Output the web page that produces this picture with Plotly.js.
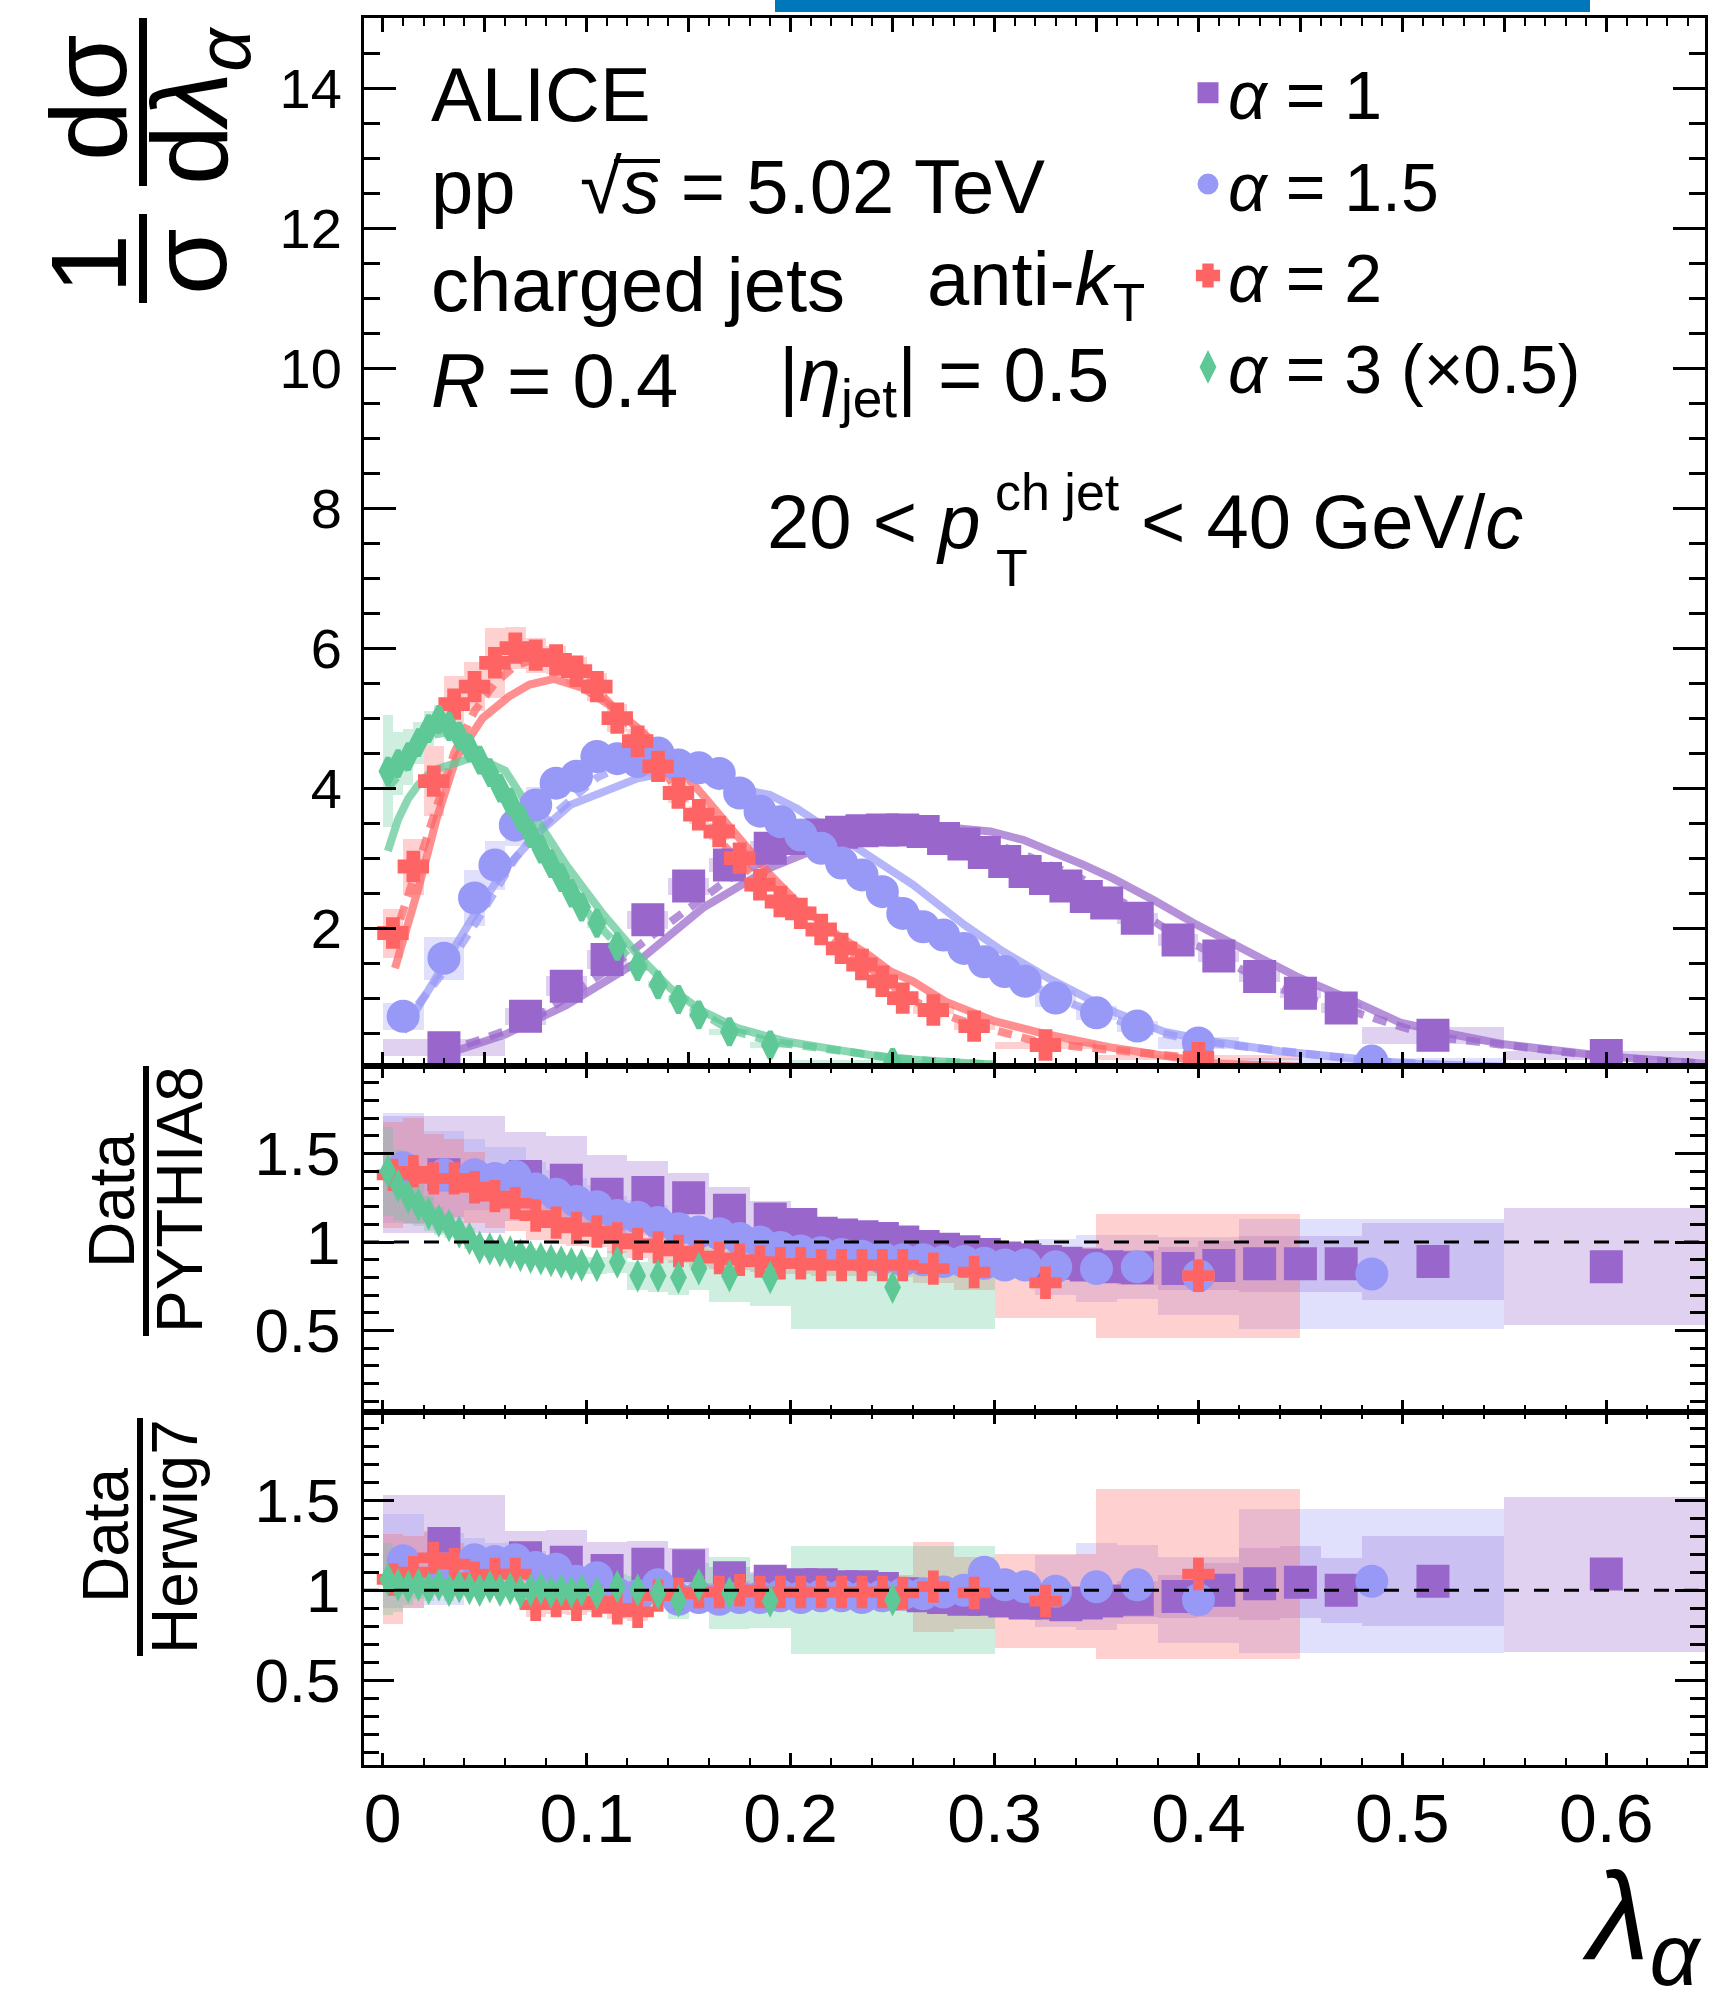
<!DOCTYPE html>
<html><head><meta charset="utf-8">
<script src="https://cdn.plot.ly/plotly-3.0.1.min.js"></script>
<style>html,body{margin:0;padding:0;background:#fff}#chart{width:1727px;height:1991px}</style>
</head><body><div id="chart"></div>
<script>
// ---------------- DATA ----------------
// alpha = 1
const lam_a1 = [0.03,0.07,0.09,0.11,0.13,0.15,0.17,0.19,0.205,0.215,0.225,0.235,0.245,0.255,0.265,0.275,0.285,0.295,0.305,0.315,0.325,0.335,0.345,0.355,0.37,0.39,0.41,0.43,0.45,0.47,0.515,0.60];
const edges_a1 = [0,0.06,0.08,0.10,0.12,0.14,0.16,0.18,0.20,0.21,0.22,0.23,0.24,0.25,0.26,0.27,0.28,0.29,0.30,0.31,0.32,0.33,0.34,0.35,0.36,0.38,0.40,0.42,0.44,0.46,0.48,0.55,0.65];
const val_a1 = [0.29,0.74,1.17,1.55,2.12,2.6,2.9,3.14,3.28,3.33,3.37,3.39,3.4,3.4,3.38,3.28,3.2,3.08,2.95,2.81,2.71,2.6,2.45,2.36,2.14,1.83,1.6,1.31,1.07,0.86,0.47,0.18];
const sys_a1 = [0.12,0.12,0.14,0.14,0.13,0.12,0.1,0.1,0.08,0.08,0.08,0.08,0.08,0.08,0.08,0.08,0.08,0.08,0.08,0.08,0.08,0.08,0.08,0.08,0.08,0.08,0.08,0.08,0.07,0.07,0.12,0.06];
const ratioPythia_a1 = [1.38,1.37,1.35,1.27,1.28,1.25,1.18,1.13,1.10,1.05,1.04,1.03,1.02,1.0,0.975,0.96,0.945,0.93,0.91,0.9,0.89,0.88,0.87,0.86,0.855,0.85,0.868,0.877,0.877,0.877,0.89,0.86];
const sysPythia_a1 = [0.33,0.25,0.25,0.22,0.18,0.14,0.13,0.10,0.06,0.06,0.06,0.06,0.06,0.06,0.06,0.06,0.06,0.06,0.06,0.06,0.06,0.06,0.07,0.07,0.1,0.12,0.14,0.16,0.16,0.16,0.22,0.33];
const ratioHerwig_a1 = [1.26,1.18,1.155,1.11,1.145,1.136,1.07,1.05,1.03,1.03,1.02,1.02,1.01,0.98,0.97,0.96,0.95,0.95,0.94,0.93,0.93,0.92,0.93,0.94,0.95,0.966,1.0,1.036,1.045,1.0,1.05,1.09];
const sysHerwig_a1 = [0.27,0.15,0.18,0.16,0.13,0.1,0.06,0.05,0.05,0.05,0.05,0.05,0.05,0.05,0.05,0.05,0.05,0.05,0.05,0.05,0.05,0.05,0.05,0.05,0.1,0.12,0.15,0.2,0.2,0.18,0.25,0.43];
const pythiaLam_a1 = [0.03,0.06,0.09,0.125,0.157,0.19,0.206,0.23,0.26,0.28,0.298,0.314,0.344,0.358,0.378,0.399,0.424,0.448,0.473,0.499,0.525,0.55,0.6,0.65];
const pythiaVal_a1 = [0.19,0.48,0.9,1.52,2.29,2.86,3.05,3.3,3.45,3.43,3.38,3.26,2.9,2.71,2.4,2.05,1.67,1.31,1.0,0.65,0.48,0.34,0.17,0.06];
const herwigLam_a1 = [0.03,0.07,0.09,0.11,0.13,0.15,0.17,0.19,0.22,0.25,0.28,0.31,0.34,0.37,0.39,0.41,0.43,0.45,0.47,0.515,0.6,0.65];
const herwigVal_a1 = [0.23,0.63,1.01,1.4,1.85,2.29,2.71,3.0,3.3,3.42,3.4,3.1,2.75,2.25,1.88,1.6,1.26,1.02,0.86,0.45,0.16,0.06];

// alpha = 1.5
const lam_a15 = [0.01,0.03,0.045,0.055,0.065,0.075,0.085,0.095,0.105,0.115,0.125,0.135,0.145,0.155,0.165,0.175,0.185,0.195,0.205,0.215,0.225,0.235,0.245,0.255,0.265,0.275,0.285,0.295,0.305,0.315,0.33,0.35,0.37,0.40,0.485];
const edges_a15 = [0,0.02,0.04,0.05,0.06,0.07,0.08,0.09,0.10,0.11,0.12,0.13,0.14,0.15,0.16,0.17,0.18,0.19,0.20,0.21,0.22,0.23,0.24,0.25,0.26,0.27,0.28,0.29,0.30,0.31,0.32,0.34,0.36,0.38,0.42,0.55];
const val_a15 = [0.74,1.57,2.43,2.9,3.47,3.76,4.07,4.17,4.45,4.42,4.38,4.5,4.33,4.29,4.21,3.93,3.67,3.52,3.33,3.14,2.93,2.76,2.52,2.21,2.02,1.9,1.71,1.52,1.38,1.24,1.0,0.79,0.6,0.36,0.1];
const sys_a15 = [0.19,0.31,0.4,0.35,0.3,0.25,0.2,0.18,0.18,0.16,0.15,0.15,0.14,0.13,0.13,0.12,0.12,0.11,0.11,0.1,0.1,0.1,0.09,0.09,0.09,0.08,0.08,0.08,0.08,0.08,0.12,0.1,0.08,0.08,0.05];
const ratioPythia_a15 = [1.42,1.38,1.38,1.36,1.37,1.30,1.27,1.23,1.2,1.15,1.14,1.11,1.075,1.057,1.047,1.02,1.0,0.97,0.95,0.94,0.93,0.92,0.91,0.9,0.9,0.89,0.89,0.88,0.87,0.87,0.86,0.85,0.86,0.81,0.82];
const sysPythia_a15 = [0.31,0.25,0.2,0.18,0.17,0.15,0.14,0.13,0.12,0.11,0.1,0.1,0.09,0.08,0.08,0.07,0.07,0.07,0.06,0.06,0.06,0.06,0.06,0.06,0.06,0.06,0.06,0.06,0.06,0.06,0.16,0.19,0.18,0.22,0.31];
const ratioHerwig_a15 = [1.164,1.12,1.17,1.16,1.17,1.126,1.117,1.05,1.07,0.98,0.97,1.03,0.95,0.96,0.95,0.96,0.96,0.97,0.96,0.97,0.97,0.96,0.97,0.98,0.98,0.99,1.0,1.1,1.03,1.02,0.994,1.02,1.03,0.947,1.05];
const sysHerwig_a15 = [0.26,0.2,0.12,0.1,0.1,0.09,0.08,0.08,0.07,0.07,0.06,0.06,0.06,0.06,0.05,0.05,0.05,0.05,0.05,0.05,0.05,0.05,0.05,0.05,0.05,0.05,0.05,0.06,0.06,0.06,0.2,0.24,0.22,0.24,0.4];
const pythiaLam_a15 = [0.01,0.026,0.043,0.059,0.075,0.092,0.108,0.125,0.14,0.16,0.174,0.19,0.203,0.223,0.239,0.26,0.285,0.304,0.326,0.358,0.383,0.407,0.44,0.472,0.5,0.55];
const pythiaVal_a15 = [0.52,1.29,2.1,2.81,3.33,3.76,3.95,4.14,4.22,4.12,4.0,3.9,3.71,3.33,3.0,2.62,2.05,1.67,1.29,0.81,0.52,0.38,0.24,0.14,0.07,0.02];
const herwigLam_a15 = [0.01,0.03,0.045,0.055,0.065,0.075,0.085,0.095,0.105,0.12,0.14,0.16,0.18,0.2,0.22,0.24,0.26,0.28,0.3,0.33,0.35,0.37,0.4,0.45,0.485,0.52];
const herwigVal_a15 = [0.64,1.38,2.05,2.5,3.0,3.35,3.65,3.9,4.15,4.35,4.4,4.25,3.85,3.45,3.05,2.65,2.25,1.9,1.5,1.0,0.78,0.58,0.38,0.2,0.1,0.05];

// alpha = 2
const lam_a2 = [0.005,0.015,0.025,0.035,0.045,0.055,0.065,0.075,0.085,0.095,0.105,0.115,0.125,0.135,0.145,0.155,0.165,0.175,0.185,0.195,0.205,0.215,0.225,0.235,0.245,0.255,0.27,0.29,0.325,0.40];
const edges_a2 = [0,0.01,0.02,0.03,0.04,0.05,0.06,0.07,0.08,0.09,0.10,0.11,0.12,0.13,0.14,0.15,0.16,0.17,0.18,0.19,0.20,0.21,0.22,0.23,0.24,0.25,0.26,0.28,0.30,0.35,0.45];
const val_a2 = [1.93,2.88,4.1,5.2,5.45,5.79,6.0,5.9,5.83,5.67,5.45,5.0,4.67,4.31,3.93,3.62,3.38,3.0,2.62,2.38,2.21,1.98,1.71,1.48,1.24,1.0,0.83,0.6,0.33,0.15];
const sys_a2 = [0.35,0.4,0.5,0.4,0.35,0.5,0.3,0.25,0.2,0.2,0.2,0.2,0.18,0.15,0.15,0.13,0.12,0.12,0.1,0.1,0.1,0.09,0.08,0.08,0.07,0.06,0.06,0.06,0.05,0.04];
const ratioPythia_a2 = [1.38,1.40,1.36,1.36,1.31,1.26,1.22,1.15,1.11,1.08,1.06,1.02,0.99,0.97,0.95,0.92,0.91,0.9,0.89,0.88,0.88,0.87,0.87,0.87,0.87,0.87,0.85,0.83,0.77,0.81];
const sysPythia_a2 = [0.3,0.3,0.25,0.22,0.2,0.18,0.16,0.14,0.12,0.1,0.09,0.08,0.08,0.07,0.07,0.06,0.06,0.06,0.06,0.06,0.06,0.06,0.06,0.06,0.06,0.07,0.08,0.1,0.2,0.35];
const ratioHerwig_a2 = [1.06,1.1,1.18,1.145,1.07,1.09,1.09,0.92,0.94,0.92,0.94,0.9,0.88,0.97,0.98,0.99,0.99,1.0,0.99,0.99,0.99,0.99,0.99,0.99,0.99,0.985,1.02,0.985,0.94,1.09];
const sysHerwig_a2 = [0.25,0.2,0.15,0.12,0.1,0.09,0.08,0.07,0.07,0.06,0.06,0.06,0.05,0.05,0.05,0.05,0.05,0.05,0.05,0.05,0.05,0.06,0.06,0.07,0.08,0.1,0.25,0.2,0.26,0.47];
const pythiaLam_a2 = [0.006,0.018,0.0265,0.036,0.049,0.062,0.072,0.084,0.098,0.111,0.125,0.141,0.157,0.174,0.19,0.206,0.223,0.239,0.249,0.26,0.276,0.3,0.326,0.358,0.39,0.407,0.45];
const pythiaVal_a2 = [1.43,2.62,3.57,4.43,5.0,5.31,5.48,5.56,5.43,5.19,4.86,4.43,3.9,3.33,2.76,2.29,1.9,1.6,1.38,1.24,0.95,0.67,0.48,0.29,0.14,0.07,0.02];
const herwigLam_a2 = [0.005,0.015,0.025,0.035,0.045,0.055,0.065,0.075,0.085,0.095,0.105,0.115,0.125,0.135,0.145,0.155,0.165,0.175,0.185,0.195,0.205,0.215,0.225,0.235,0.245,0.255,0.27,0.29,0.325,0.40];
const herwigVal_a2 = [1.8,2.7,3.6,4.5,5.1,5.5,5.75,5.85,5.8,5.65,5.4,5.1,4.75,4.35,3.95,3.6,3.25,2.95,2.65,2.4,2.15,1.95,1.72,1.5,1.3,1.05,0.82,0.62,0.35,0.14];

// alpha = 3 (x0.5)
const lam_a3 = [0.0025,0.0075,0.0125,0.0175,0.0225,0.0275,0.0325,0.0375,0.0425,0.0475,0.0525,0.0575,0.0625,0.0675,0.0725,0.0775,0.0825,0.0875,0.0925,0.0975,0.105,0.115,0.125,0.135,0.145,0.155,0.17,0.19,0.25];
const edges_a3 = [0,0.005,0.01,0.015,0.02,0.025,0.03,0.035,0.04,0.045,0.05,0.055,0.06,0.065,0.07,0.075,0.08,0.085,0.09,0.095,0.10,0.11,0.12,0.13,0.14,0.15,0.16,0.18,0.20,0.30];
const val_a3 = [4.24,4.35,4.45,4.65,4.85,4.98,4.88,4.74,4.57,4.4,4.22,4.0,3.8,3.58,3.35,3.13,2.92,2.72,2.5,2.3,2.07,1.74,1.45,1.19,0.98,0.76,0.52,0.33,0.08];
const sys_a3 = [0.8,0.45,0.4,0.3,0.25,0.2,0.18,0.16,0.15,0.14,0.13,0.12,0.11,0.1,0.1,0.09,0.08,0.08,0.07,0.07,0.07,0.06,0.06,0.05,0.05,0.05,0.04,0.04,0.03];
const ratioPythia_a3 = [1.40,1.32,1.255,1.21,1.16,1.12,1.094,1.057,1.02,0.97,0.962,0.953,0.943,0.925,0.915,0.906,0.896,0.887,0.877,0.87,0.868,0.887,0.81,0.81,0.8,0.85,0.81,0.8,0.745];
const sysPythia_a3 = [0.25,0.2,0.15,0.12,0.1,0.08,0.07,0.06,0.06,0.05,0.05,0.05,0.05,0.05,0.05,0.05,0.05,0.05,0.05,0.05,0.05,0.06,0.08,0.09,0.1,0.12,0.15,0.16,0.235];
const ratioHerwig_a3 = [1.06,1.03,1.02,1.03,1.01,1.03,1.0,1.02,1.01,1.0,1.02,1.0,1.01,0.99,1.0,1.01,0.99,1.0,0.99,1.0,0.985,1.02,1.0,0.985,0.94,1.03,0.985,0.94,0.947];
const sysHerwig_a3 = [0.2,0.15,0.1,0.08,0.07,0.06,0.06,0.05,0.05,0.05,0.05,0.05,0.05,0.05,0.05,0.05,0.05,0.05,0.05,0.05,0.06,0.07,0.08,0.09,0.1,0.12,0.2,0.15,0.3];
const pythiaLam_a3 = [0.0025,0.0075,0.0125,0.0175,0.0225,0.0275,0.035,0.045,0.06,0.075,0.09,0.108,0.125,0.141,0.157,0.174,0.198,0.223,0.249,0.3];
const pythiaVal_a3 = [3.1,3.55,3.85,4.05,4.2,4.28,4.35,4.45,4.25,3.6,2.9,2.2,1.62,1.14,0.81,0.57,0.38,0.26,0.14,0.05];
const herwigLam_a3 = [0.0025,0.0125,0.0225,0.0325,0.0425,0.0525,0.0625,0.0725,0.0825,0.0925,0.105,0.125,0.145,0.17,0.19,0.21,0.23,0.25,0.27,0.3];
const herwigVal_a3 = [4.0,4.35,4.75,4.8,4.5,4.2,3.8,3.35,2.95,2.5,2.07,1.45,0.98,0.55,0.38,0.3,0.22,0.15,0.1,0.05];

const legendNames = ['<i>α</i> = 1','<i>α</i> = 1.5','<i>α</i> = 2','<i>α</i> = 3 (×0.5)'];
const xTickLabels = ['0','0.1','0.2','0.3','0.4','0.5','0.6'];
const xTickVals = [0,0.1,0.2,0.3,0.4,0.5,0.6];

// ---------------- STYLE / LAYOUT ----------------
const W=1727,H=1991,ML=364,MR=22,MT=18,MB=226;
const PW=W-ML-MR, PH=H-MT-MB;
const px = x => (x-ML)/PW;
const py = y => (H-MB-y)/PH;
const FONT = 'Liberation Sans, Arial, Helvetica, sans-serif';
function rgba(hex,a){const n=parseInt(hex.slice(1),16);return `rgba(${(n>>16)&255},${(n>>8)&255},${n&255},${a})`;}

const series = [
 {col:'#9966cc', sym:'square', size:33, lam:lam_a1, edges:edges_a1, val:val_a1, sys:sys_a1, rP:ratioPythia_a1, sP:sysPythia_a1, rH:ratioHerwig_a1, sH:sysHerwig_a1, pl:pythiaLam_a1, pv:pythiaVal_a1, hl:herwigLam_a1, hv:herwigVal_a1},
 {col:'#9898f7', sym:'circle', size:33, lam:lam_a15, edges:edges_a15, val:val_a15, sys:sys_a15, rP:ratioPythia_a15, sP:sysPythia_a15, rH:ratioHerwig_a15, sH:sysHerwig_a15, pl:pythiaLam_a15, pv:pythiaVal_a15, hl:herwigLam_a15, hv:herwigVal_a15},
 {col:'#ff6464', sym:'cross', size:27, lam:lam_a2, edges:edges_a2, val:val_a2, sys:sys_a2, rP:ratioPythia_a2, sP:sysPythia_a2, rH:ratioHerwig_a2, sH:sysHerwig_a2, pl:pythiaLam_a2, pv:pythiaVal_a2, hl:herwigLam_a2, hv:herwigVal_a2},
 {col:'#5ec896', sym:'diamond-tall', size:24, lam:lam_a3, edges:edges_a3, val:val_a3, sys:sys_a3, rP:ratioPythia_a3, sP:sysPythia_a3, rH:ratioHerwig_a3, sH:sysHerwig_a3, pl:pythiaLam_a3, pv:pythiaVal_a3, hl:herwigLam_a3, hv:herwigVal_a3}
];

function boxTrace(s, vals, sys, xa, ya, op){
  const c=[],w=[],base=[],h=[];
  for(let i=0;i<vals.length;i++){const lo=s.edges[i],hi=s.edges[i+1];c.push((lo+hi)/2);w.push(hi-lo);base.push(vals[i]-sys[i]);h.push(2*sys[i]);}
  return {type:'bar',x:c,y:h,base:base,width:w,xaxis:xa,yaxis:ya,marker:{color:rgba(s.col,op),line:{width:0}},showlegend:false,hoverinfo:'skip'};
}
function lineTrace(s,lx,ly,dash){
  return {type:'scatter',mode:'lines',x:lx,y:ly,xaxis:'x',yaxis:'y',line:{color:rgba(s.col,0.72),width:8,dash:dash},showlegend:false,hoverinfo:'skip'};
}
function markTrace(s,vals,xa,ya,name,leg){
  // legend-bearing traces use an outline of the same colour so the legend swatch is larger
  const lw = leg ? 5 : 0;
  return {type:'scatter',mode:'markers',x:s.lam,y:vals,xaxis:xa,yaxis:ya,name:name,showlegend:leg,
    marker:{symbol:s.sym,size:s.size-lw,color:s.col,line:{width:lw,color:s.col}},hoverinfo:'skip'};
}

const traces=[];
series.forEach(s=>traces.push(boxTrace(s,s.val,s.sys,'x','y',0.3)));
series.forEach(s=>traces.push(boxTrace(s,s.rP,s.sP,'x2','y2',0.3)));
series.forEach(s=>traces.push(boxTrace(s,s.rH,s.sH,'x3','y3',0.3)));
series.forEach(s=>{traces.push(lineTrace(s,s.pl,s.pv,'solid'));traces.push(lineTrace(s,s.hl,s.hv,'14px,10px'));});
series.forEach((s,i)=>traces.push(markTrace(s,s.val,'x','y',legendNames[i],true)));
series.forEach((s,i)=>traces.push(markTrace(s,s.rP,'x2','y2',legendNames[i],false)));
series.forEach((s,i)=>traces.push(markTrace(s,s.rH,'x3','y3',legendNames[i],false)));

const XR=[-0.0092,0.6484];
const axBase={showline:true,linecolor:'black',linewidth:3,mirror:'allticks',ticks:'inside',tickcolor:'black',tickwidth:3,zeroline:false,showgrid:false,fixedrange:true};
const yTop=0.4001, yMid=0.2021;

const layout={
  width:W,height:H,margin:{l:ML,r:MR,t:MT,b:MB},paper_bgcolor:'white',plot_bgcolor:'white',
  barmode:'overlay',bargap:0,showlegend:true,
  font:{family:FONT,color:'black'},
  xaxis:Object.assign({},axBase,{domain:[0,1],range:XR,anchor:'y',showticklabels:false,tick0:0,dtick:0.05,ticklen:14,
        minor:{dtick:0.01,ticklen:8,tickwidth:2,ticks:'inside',tickcolor:'black'}}),
  xaxis2:Object.assign({},axBase,{domain:[0,1],range:XR,anchor:'y2',matches:'x',showticklabels:false,tick0:0,dtick:0.1,ticklen:12,
        minor:{dtick:0.02,ticklen:7,tickwidth:2,ticks:'inside',tickcolor:'black'}}),
  xaxis3:Object.assign({},axBase,{domain:[0,1],range:XR,anchor:'y3',matches:'x',tickmode:'array',tickvals:xTickVals,ticktext:xTickLabels,ticklen:12,
        tickfont:{size:68,family:FONT,color:'black'},ticklabelstandoff:-8,
        minor:{dtick:0.02,ticklen:7,tickwidth:2,ticks:'inside',tickcolor:'black'}}),
  yaxis:Object.assign({},axBase,{domain:[yTop,1],range:[0.03,15],anchor:'x',tick0:0,dtick:2,ticklen:32,
        tickfont:{size:56,family:FONT,color:'black'},ticklabelstandoff:8,
        minor:{dtick:0.5,ticklen:16,tickwidth:3,ticks:'inside',tickcolor:'black'}}),
  yaxis2:Object.assign({},axBase,{domain:[yMid,yTop],range:[0.04,1.995],anchor:'x2',tick0:0,dtick:0.5,ticklen:30,
        tickfont:{size:62,family:FONT,color:'black'},ticklabelstandoff:8,
        minor:{dtick:0.1,ticklen:15,tickwidth:3,ticks:'inside',tickcolor:'black'}}),
  yaxis3:Object.assign({},axBase,{domain:[0,yMid],range:[0.03,1.99],anchor:'x3',tick0:0,dtick:0.5,ticklen:30,
        tickfont:{size:62,family:FONT,color:'black'},ticklabelstandoff:8,
        minor:{dtick:0.1,ticklen:15,tickwidth:3,ticks:'inside',tickcolor:'black'}}),
  legend:{x:px(1188),y:py(42),xanchor:'left',yanchor:'top',bgcolor:'rgba(0,0,0,0)',borderwidth:0,
          font:{size:68,family:FONT,color:'black'},itemsizing:'trace',tracegroupgap:0},
  shapes:[
    {type:'rect',xref:'paper',yref:'paper',x0:px(775),x1:px(1590),y0:py(12),y1:py(-2),fillcolor:'#0077bb',line:{width:0}},
    {type:'line',xref:'paper',yref:'y2',x0:0,x1:1,y0:1,y1:1,line:{color:'black',width:3,dash:'15px,15px'}},
    {type:'line',xref:'paper',yref:'y3',x0:0,x1:1,y0:1,y1:1,line:{color:'black',width:3,dash:'15px,15px'}},
    // radical bar over s
    {type:'line',xref:'paper',yref:'paper',x0:px(614),x1:px(660),y0:py(161),y1:py(161),line:{color:'black',width:4}},
    // fraction bars of axis titles
    {type:'line',xref:'paper',yref:'paper',x0:px(143),x1:px(143),y0:py(214),y1:py(303),line:{color:'black',width:8}},
    {type:'line',xref:'paper',yref:'paper',x0:px(143),x1:px(143),y0:py(18),y1:py(186),line:{color:'black',width:8}},
    {type:'line',xref:'paper',yref:'paper',x0:px(146),x1:px(146),y0:py(1066),y1:py(1336),line:{color:'black',width:6}},
    {type:'line',xref:'paper',yref:'paper',x0:px(140),x1:px(140),y0:py(1418),y1:py(1656),line:{color:'black',width:6}}
  ],
  annotations:[]
};
function ann(text,x,y,size,o){return Object.assign({text:text,x:px(x),y:py(y),xref:'paper',yref:'paper',showarrow:false,
  font:{family:FONT,size:size,color:'black'},xanchor:'left',yanchor:'middle'},o||{});}
const A=layout.annotations;
A.push(ann('ALICE',429,94,76));
A.push(ann('pp',429,187,76));
A.push(ann('√<i>s</i> = 5.02 TeV',578,187,76));
A.push(ann('charged jets',429,284,76));
A.push(ann('anti-<i>k</i><sub>T</sub>',925,284,76));
A.push(ann('<i>R</i> = 0.4',429,380,76));
A.push(ann('|<i>η</i><sub>jet</sub>| = 0.5',777,380,76));
A.push(ann('20 &lt; <i>p</i>',765,522,76));
A.push(ann('ch jet',993,492,52));
A.push(ann('T',994,568,52));
A.push(ann('&lt; 40 GeV/<i>c</i>',1139,522,76));
A.push(ann('1',89,264,108,{xanchor:'center',textangle:-90}));
A.push(ann('σ',188,262,108,{xanchor:'center',textangle:-90}));
A.push(ann('dσ',89,98,108,{xanchor:'center',textangle:-90}));
A.push(ann('d<i>λ</i><sub><i>α</i></sub>',198,106,108,{xanchor:'center',textangle:-90}));
A.push(ann('Data',112,1200,64,{xanchor:'center',textangle:-90}));
A.push(ann('PYTHIA8',180,1200,64,{xanchor:'center',textangle:-90}));
A.push(ann('Data',106,1535,64,{xanchor:'center',textangle:-90}));
A.push(ann('Herwig7',175,1537,64,{xanchor:'center',textangle:-90}));
A.push(ann('<i>λ</i><sub><i>α</i></sub>',1580,1925,125));

Plotly.newPlot('chart',traces,layout,{staticPlot:true,displayModeBar:false});
</script></body></html>
